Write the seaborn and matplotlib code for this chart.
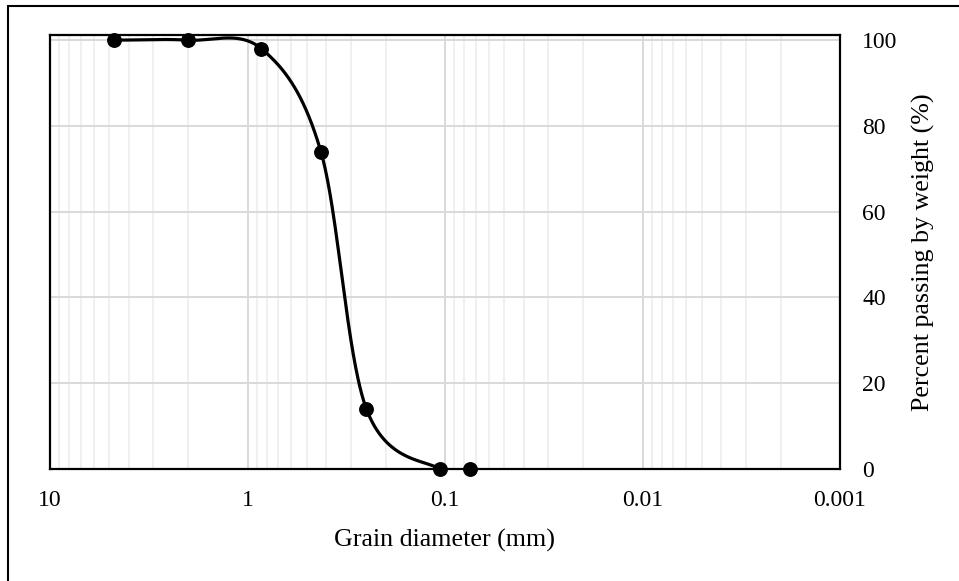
import numpy as np
import pandas as pd
import matplotlib
matplotlib.use("Agg")
import matplotlib.pyplot as plt
from matplotlib.lines import Line2D
from matplotlib.ticker import FixedLocator, FixedFormatter, LogLocator, NullFormatter
import seaborn as sns

# ---- data ----
grain_size_mm = [4.75, 2.0, 0.85, 0.425, 0.25, 0.106, 0.075]
percent_passing = [100, 100, 98, 74, 14, 0, 0]
x_tick_values = [10, 1, 0.1, 0.01, 0.001]
x_tick_labels = ["10", "1", "0.1", "0.01", "0.001"]
y_tick_values = [0, 20, 40, 60, 80, 100]
x_label = "Grain diameter (mm)"
y_label = "Percent passing by weight (%)"

sns.set_theme(style="white")
plt.rcParams["font.family"] = ["Liberation Serif", "DejaVu Serif"]

W, H, DPI = 959, 581, 100
fig = plt.figure(figsize=(W / DPI, H / DPI), dpi=DPI)
L, R, T, B = 50, 840, 35, 469
ax = fig.add_axes([L / W, 1 - B / H, (R - L) / W, (B - T) / H])

YMAX = 101.2
ax.set_xscale("log")
ax.set_xlim(10, 0.001)
ax.set_ylim(0, YMAX)

# ---- Excel-like smoothing (Catmull-Rom in screen space) ----
px_per_dec = (R - L) / 4.0
px_per_unit = (B - T) / YMAX
u = -np.log10(np.array(grain_size_mm)) * px_per_dec
v = np.array(percent_passing, dtype=float) * px_per_unit
n = len(u)
P = np.column_stack([u, v])
Tg = np.zeros_like(P)
for i in range(n):
    if i == 0:
        Tg[i] = P[1] - P[0]
    elif i == n - 1:
        Tg[i] = P[-1] - P[-2]
    else:
        Tg[i] = (P[i + 1] - P[i - 1]) / 2.0
pts = []
tt = np.linspace(0, 1, 60)
for i in range(n - 1):
    b0 = P[i]
    b1 = P[i] + Tg[i] / 3.0
    b2 = P[i + 1] - Tg[i + 1] / 3.0
    b3 = P[i + 1]
    for t in tt[:-1] if i < n - 2 else tt:
        pt = ((1 - t) ** 3) * b0 + 3 * ((1 - t) ** 2) * t * b1 + 3 * (1 - t) * t * t * b2 + t ** 3 * b3
        pts.append(pt)
pts = np.array(pts)
smooth = pd.DataFrame({
    "size": 10 ** (-pts[:, 0] / px_per_dec),
    "passing": pts[:, 1] / px_per_unit,
})
pts_df = pd.DataFrame({"size": grain_size_mm, "passing": percent_passing})

# ---- grid ----
ax.xaxis.set_major_locator(FixedLocator(x_tick_values))
ax.xaxis.set_major_formatter(FixedFormatter(x_tick_labels))
ax.xaxis.set_minor_locator(LogLocator(base=10, subs=np.arange(2, 10)))
ax.xaxis.set_minor_formatter(NullFormatter())
ax.yaxis.set_major_locator(FixedLocator(y_tick_values))
ax.grid(True, which="major", color="#d9d9d9", linewidth=1.4)
ax.grid(True, which="minor", axis="x", color="#f0f0f0", linewidth=1.4)
ax.set_axisbelow(True)

sns.lineplot(data=smooth, x="size", y="passing", sort=False, estimator=None,
             color="black", linewidth=2.3, ax=ax, zorder=3)
sns.scatterplot(data=pts_df, x="size", y="passing", color="black", s=115,
                edgecolor="black", linewidth=0, ax=ax, zorder=4, clip_on=False)

# ---- axes styling ----
for sp in ax.spines.values():
    sp.set_visible(True)
    sp.set_color("black")
    sp.set_linewidth(1.6)
    sp.set_zorder(5)

ax.yaxis.tick_right()
ax.yaxis.set_label_position("right")
ax.tick_params(axis="both", which="both", length=0)
ax.tick_params(axis="y", pad=16, labelsize=17, colors="black")
ax.tick_params(axis="x", pad=15, labelsize=17, colors="black")
for lab in ax.get_yticklabels():
    lab.set_horizontalalignment("left")

ax.set_xlabel(x_label, fontsize=18.7, color="black", labelpad=13)
ax.set_ylabel(y_label, fontsize=18.7, color="black", labelpad=10)

# outer chart border (left and top visible)
fig.add_artist(Line2D([8 / W, 8 / W], [0, 1 - 6 / H], transform=fig.transFigure,
                      color="black", linewidth=1.5))
fig.add_artist(Line2D([8 / W, 1], [1 - 6 / H, 1 - 6 / H], transform=fig.transFigure,
                      color="black", linewidth=1.5))

fig.savefig("out.png", dpi=DPI)
